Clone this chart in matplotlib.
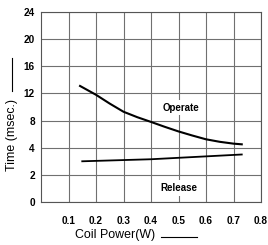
import matplotlib
matplotlib.use("Agg")
import matplotlib.pyplot as plt
from matplotlib.lines import Line2D
import numpy as np

plt.rcParams['font.family'] = ['Liberation Sans', 'DejaVu Sans']

# y axis is not linear: 0, 2, 4, then steps of 4
y_ticks = [0, 2, 4, 8, 12, 16, 20, 24]
x_ticks = [0.1, 0.2, 0.3, 0.4, 0.5, 0.6, 0.7, 0.8]

operate_x = [0.142, 0.2, 0.25, 0.3, 0.35, 0.4, 0.45, 0.5, 0.55, 0.6, 0.65, 0.7, 0.73]
operate_y = [13.1, 11.8, 10.5, 9.3, 8.5, 7.8, 7.08, 6.4, 5.8, 5.24, 4.87, 4.6, 4.5]

release_x = [0.15, 0.4, 0.73]
release_y = [3.0, 3.15, 3.5]

idx = np.arange(len(y_ticks), dtype=float)


def fwd(v):
    return np.interp(v, y_ticks, idx)


def inv(v):
    return np.interp(v, idx, y_ticks)


W, H = 268.0, 245.0
fig = plt.figure(figsize=(2.68, 2.45), dpi=100)
ax = fig.add_axes([41 / W, 1 - 202 / H, 220 / W, 190 / H])
ax.set_yscale('function', functions=(fwd, inv))
ax.set_xlim(0, 0.8)
ax.set_ylim(0, 24)
ax.set_xticks(x_ticks)
ax.set_yticks(y_ticks)
ax.set_yticklabels([str(t) for t in y_ticks])
ax.yaxis.set_minor_locator(matplotlib.ticker.NullLocator())
ax.tick_params(length=0, labelsize=7.2)
ax.tick_params(axis='x', pad=10)
ax.tick_params(axis='y', pad=4.5)
for lab in ax.get_xticklabels() + ax.get_yticklabels():
    lab.set_fontweight('bold')
ax.grid(True, color='#707070', linewidth=0.8)
for s in ax.spines.values():
    s.set_color('#555555')
    s.set_linewidth(0.8)

ax.plot(operate_x, operate_y, color='black', linewidth=1.5)
ax.plot(release_x, release_y, color='black', linewidth=1.3)

box = dict(facecolor='white', edgecolor='none', pad=2)
ax.text(0.51, 9.9, 'Operate', ha='center', va='center', fontsize=7,
        fontweight='bold', bbox=box)
ax.text(0.50, 1.05, 'Release', ha='center', va='center', fontsize=7,
        fontweight='bold', bbox=box)

# axis titles with the trailing rule, as in the original sheet
fig.text(75 / W, 1 - 235 / H, 'Coil Power(W)', ha='left', va='center',
         fontsize=8.9)
fig.add_artist(Line2D([161 / W, 197 / W], [1 - 236.5 / H, 1 - 236.5 / H],
                      color='black', linewidth=0.8))
fig.text(12 / W, 1 - 171 / H, 'Time (msec.)', ha='center', va='bottom',
         rotation=90, fontsize=8.9)
fig.add_artist(Line2D([12 / W, 12 / W], [1 - 91 / H, 1 - 58 / H],
                      color='black', linewidth=0.8))

fig.savefig('out.png', dpi=100)
